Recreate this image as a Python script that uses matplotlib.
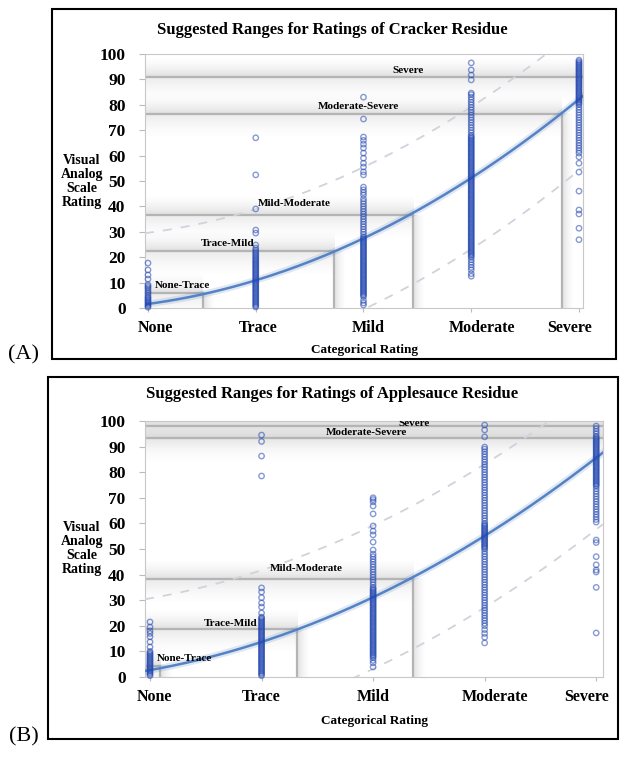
import numpy as np
import matplotlib
matplotlib.use("Agg")
import matplotlib.pyplot as plt
from matplotlib.patches import Rectangle

plt.rcParams.update({"font.family": ["Liberation Serif", "DejaVu Serif"],
                     "font.weight": "bold"})

CATEGORIES = ["None", "Trace", "Mild", "Moderate", "Severe"]
YTICKS = [0, 10, 20, 30, 40, 50, 60, 70, 80, 90, 100]
RANGE_NAMES = ["None-Trace", "Trace-Mild", "Mild-Moderate", "Moderate-Severe", "Severe"]

# ---- panel A: cracker residue ----
A_TITLE = "Suggested Ranges for Ratings of Cracker Residue"
A_NONE = [0.3, 0.8, 1.3, 1.8, 2.3, 2.8, 3.3, 3.8, 4.3, 5.0, 5.8, 6.5, 7.3, 8.0, 8.6, 9.2,
          11.4, 13.0, 15.0, 17.7]
A_TRACE = [0.4, 0.9, 1.4, 1.9, 2.4, 2.9, 3.4, 3.9, 4.4, 4.9, 5.4, 5.9, 6.4, 6.9, 7.4, 7.9,
           8.4, 8.9, 9.4, 9.9, 10.4, 10.9, 11.4, 11.9, 12.4, 12.9, 13.4, 13.9, 14.4, 14.9,
           15.4, 15.9, 16.4, 16.9, 17.4, 17.9, 18.4, 18.9, 19.4, 19.9, 20.5, 21.0, 21.6,
           22.2, 22.8, 23.6, 24.8, 29.5, 30.7, 39.0, 52.4, 67.0]
A_MILD = [1.2, 2.0, 3.0, 4.5, 5.0, 5.5, 6.0, 6.5, 7.0, 7.5, 8.0, 8.5, 9.0, 9.5, 10.0, 10.5,
          11.0, 11.5, 12.0, 12.5, 13.0, 13.5, 14.0, 14.5, 15.0, 15.5, 16.0, 16.5, 17.0,
          17.5, 18.0, 18.5, 19.0, 19.5, 20.0, 20.5, 21.0, 21.5, 22.0, 22.5, 23.0, 23.5,
          24.0, 24.5, 25.0, 25.5, 26.0, 26.5, 27.0, 27.5, 28.0, 29.0, 30.0, 31.0, 32.0,
          33.0, 34.0, 35.0, 36.0, 37.0, 38.0, 39.0, 40.0, 41.0, 42.0, 43.0, 44.5, 45.5,
          46.5, 47.6, 52.4, 53.6, 55.5, 57.0, 59.0, 61.0, 63.0, 64.5, 66.0, 67.3, 74.4, 83.0]
A_MODERATE = [12.5, 13.5, 15.0, 16.0, 17.0, 18.0, 19.0, 20.0, 20.5, 21.0, 21.5, 22.0, 22.5,
              23.0, 23.5, 24.0, 24.5, 25.0, 25.5, 26.0, 26.5, 27.0, 27.5, 28.0, 28.5, 29.0,
              29.5, 30.0, 30.5, 31.0, 31.5, 32.0, 32.5, 33.0, 33.5, 34.0, 34.5, 35.0, 35.5,
              36.0, 36.5, 37.0, 37.5, 38.0, 38.5, 39.0, 39.5, 40.0, 40.5, 41.0, 41.5, 42.0,
              42.5, 43.0, 43.5, 44.0, 44.5, 45.0, 45.5, 46.0, 46.5, 47.0, 47.5, 48.0, 48.5,
              49.0, 49.5, 50.0, 50.5, 51.0, 51.5, 52.0, 52.5, 53.0, 53.5, 54.0, 54.5, 55.0,
              55.5, 56.0, 56.5, 57.0, 57.5, 58.0, 58.5, 59.0, 59.5, 60.0, 60.5, 61.0, 61.5,
              62.0, 62.5, 63.0, 63.5, 64.0, 64.5, 65.0, 65.5, 66.0, 66.5, 67.0, 67.5, 68.0,
              69.0, 70.0, 71.0, 72.0, 73.0, 74.0, 75.0, 76.0, 77.0, 78.0, 79.0, 80.0, 81.0,
              82.0, 83.0, 84.0, 84.6, 89.8, 91.7, 93.7, 96.5]
A_SEVERE = [26.9, 31.4, 37.0, 38.6, 46.0, 53.5, 57.0, 59.5, 61.0, 62.0, 63.0, 64.0, 65.0,
            66.0, 67.0, 68.0, 69.0, 70.0, 71.0, 72.0, 73.0, 74.0, 75.0, 76.0, 77.0, 78.0,
            79.0, 80.0, 80.5, 81.0, 81.5, 82.0, 82.5, 83.0, 83.5, 84.0, 84.5, 85.0, 85.5,
            86.0, 86.5, 87.0, 87.5, 88.0, 88.5, 89.0, 89.5, 90.0, 90.5, 91.0, 91.5, 92.0,
            92.5, 93.0, 93.5, 94.0, 94.5, 95.0, 95.5, 96.0, 96.5, 97.0, 97.6]
A_FIT = [1.8, 10.5, 27.5, 51.5, 82.0]        # fitted curve read at each category
A_UPPER = [29.8, 38.5, 55.5, 79.5, 110.0]    # upper dashed band
A_LOWER = [-26.2, -17.5, -0.5, 23.5, 54.0]   # lower dashed band
A_CUT_VAS = [6.0, 22.4, 36.6, 76.4, 91.0]    # suggested cut-off on the VAS
A_CUT_CAT = [1.51, 2.73, 3.46, 4.84, None]   # where the cut meets the curve

# ---- panel B: applesauce residue ----
B_TITLE = "Suggested Ranges for Ratings of Applesauce Residue"
B_NONE = [0.5, 1.0, 1.5, 2.0, 2.5, 3.0, 3.5, 4.0, 4.5, 5.0, 5.5, 6.0, 6.5, 7.0, 7.5, 8.0,
          8.5, 9.0, 9.5, 10.0, 11.7, 13.7, 15.7, 17.0, 18.0, 19.5, 21.5]
B_TRACE = [0.5, 1.0, 1.5, 2.0, 2.5, 3.0, 3.5, 4.0, 4.5, 5.0, 5.5, 6.0, 6.5, 7.0, 7.5, 8.0,
           8.5, 9.0, 9.5, 10.0, 10.5, 11.0, 11.5, 12.0, 12.5, 13.0, 13.5, 14.0, 14.5, 15.0,
           15.5, 16.0, 16.5, 17.0, 17.5, 18.0, 18.5, 19.0, 19.5, 20.0, 20.5, 21.0, 21.5,
           22.0, 22.5, 23.0, 23.4, 25.0, 27.3, 28.9, 31.0, 33.2, 34.8, 78.5, 86.3, 92.0, 94.5]
B_MILD = [3.9, 5.5, 6.5, 7.5, 8.0, 8.5, 9.0, 9.5, 10.0, 10.5, 11.0, 11.5, 12.0, 12.5, 13.0,
          13.5, 14.0, 14.5, 15.0, 15.5, 16.0, 16.5, 17.0, 17.5, 18.0, 18.5, 19.0, 19.5,
          20.0, 20.5, 21.0, 21.5, 22.0, 22.5, 23.0, 23.5, 24.0, 24.5, 25.0, 25.5, 26.0,
          26.5, 27.0, 27.5, 28.0, 28.5, 29.0, 29.5, 30.0, 30.5, 31.0, 31.5, 32.0, 32.5,
          33.0, 33.5, 34.0, 34.5, 35.0, 36.0, 37.0, 38.0, 39.0, 40.0, 41.0, 42.0, 43.0,
          44.0, 45.0, 46.0, 47.0, 48.0, 49.6, 52.7, 55.5, 57.0, 59.0, 63.7, 66.8, 68.4,
          69.3, 70.0]
B_MODERATE = [13.3, 15.5, 17.0, 18.5, 20.0, 21.0, 22.0, 23.0, 24.0, 25.0, 26.0, 27.0, 28.0,
              29.0, 30.0, 31.0, 32.0, 33.0, 34.0, 35.0, 36.0, 37.0, 38.0, 39.0, 40.0, 41.0,
              42.0, 43.0, 44.0, 45.0, 46.0, 47.0, 48.0, 49.0, 50.0, 50.5, 51.0, 51.5, 52.0,
              52.5, 53.0, 53.5, 54.0, 54.5, 55.0, 55.5, 56.0, 56.5, 57.0, 57.5, 58.0, 58.5,
              59.0, 59.5, 60.0, 61.0, 62.0, 63.0, 64.0, 65.0, 66.0, 67.0, 68.0, 69.0, 70.0,
              71.0, 72.0, 73.0, 74.0, 75.0, 76.0, 77.0, 78.0, 79.0, 80.0, 81.0, 82.0, 83.0,
              84.0, 85.0, 86.0, 87.0, 88.0, 89.0, 89.8, 93.8, 96.5, 98.4]
B_SEVERE = [17.2, 35.0, 41.0, 41.8, 43.8, 47.0, 52.5, 53.5, 60.5, 61.5, 62.5, 63.5, 64.5,
            65.5, 66.5, 67.5, 68.5, 69.5, 70.5, 71.5, 72.5, 73.5, 74.5, 75.0, 75.5, 76.0,
            76.5, 77.0, 77.5, 78.0, 78.5, 79.0, 79.5, 80.0, 80.5, 81.0, 81.5, 82.0, 82.5,
            83.0, 83.5, 84.0, 84.5, 85.0, 85.5, 86.0, 86.5, 87.0, 87.5, 88.0, 88.5, 89.0,
            89.5, 90.0, 90.5, 91.0, 91.5, 92.0, 92.5, 93.0, 93.5, 94.0, 95.0, 96.0, 97.0, 98.0]
B_FIT = [2.7, 13.8, 30.8, 55.5, 85.5]
B_UPPER = [30.7, 41.8, 58.8, 83.5, 113.5]
B_LOWER = [-25.3, -14.2, 2.8, 27.5, 57.5]
B_CUT_VAS = [4.3, 18.6, 38.3, 93.2, 98.2]
B_CUT_CAT = [1.09, 2.32, 3.36, None, None]

PT = "#2348b0"
CURVE = "#5482c4"
DASH = "#d0d3dc"
LINE = "#b4b4b4"


def glow(ax, x0, x1, y0, y1, side, a=0.2):
    """gray gradient strip; opaque on the side touching the range line"""
    ramp = np.linspace(1, 0, 64) ** 1.6 * a
    if side == "up":
        alpha = ramp[:, None]
    elif side == "down":
        alpha = ramp[::-1][:, None]
    else:
        alpha = ramp[None, :]
    img = np.zeros(alpha.shape + (4,))
    img[..., :3] = 0.45
    img[..., 3] = alpha
    ax.imshow(img, extent=(x0, x1, y0, y1), origin="lower", aspect="auto",
              interpolation="bilinear", zorder=0.5)


def panel(ax, cols, fit, upper, lower, cut_vas, cut_cat, label_xy, xlab_x, xlim):
    x = np.arange(1, 6)
    xs = np.linspace(xlim[0], xlim[1], 200)

    # suggested ranges with their soft shadows
    for name, v, c, (lx, ly) in zip(RANGE_NAMES, cut_vas, cut_cat, label_xy):
        xr = xlim[1] if c is None else c
        glow(ax, xlim[0], xr, v, v + 8, "up", 0.22)
        glow(ax, xlim[0], xr, v - 10, v, "down", 0.15)
        ax.plot([xlim[0], xr], [v, v], color=LINE, lw=1.6, zorder=2, solid_capstyle="butt")
        if c is not None:
            glow(ax, xr, xr + 0.12, 0, v, "right", 0.22)
            ax.plot([xr, xr], [0, v], color=LINE, lw=1.6, zorder=2)
        ax.text(lx, ly, name, fontsize=8, ha="center", va="center", zorder=6, clip_on=True)

    # quadratic trend and prediction band
    for vals, style in ((upper, "dash"), (lower, "dash"), (fit, "fit")):
        ys = np.polyval(np.polyfit(x, vals, 2), xs)
        if style == "dash":
            ax.plot(xs, ys, color=DASH, lw=1.3, dashes=(5, 5), zorder=3)
        else:
            ax.plot(xs, ys, color=CURVE, lw=5, alpha=0.18, zorder=3)
            ax.plot(xs, ys, color=CURVE, lw=1.8, zorder=3)

    for i, vals in enumerate(cols):
        ax.scatter(np.full(len(vals), i + 1), vals, s=15, facecolors="none",
                   edgecolors=PT, linewidths=1.0, alpha=0.55, zorder=4, clip_on=False)

    ax.set_xlim(*xlim)
    ax.set_ylim(0, 100)
    ax.set_yticks(YTICKS)
    ax.set_yticklabels([str(t) for t in YTICKS], fontsize=12.5, fontweight="bold")
    ax.set_xticks(x)
    ax.set_xticklabels([])
    ax.tick_params(axis="y", length=4, color="#bbbbbb", pad=10)
    ax.tick_params(axis="x", length=3, color="#bbbbbb")
    for sp in ax.spines.values():
        sp.set_color("#c8c8c8")
        sp.set_linewidth(0.8)
    for lab, lx in zip(CATEGORIES, xlab_x):
        ax.annotate(lab, xy=(lx, 0), xycoords=("data", "axes fraction"), xytext=(0, -20),
                    textcoords="offset pixels", ha="center", va="center",
                    fontsize=11.5, fontweight="bold", annotation_clip=False)


fig = plt.figure(figsize=(6.29, 7.57), dpi=100)

axa = fig.add_axes([0.2305, 0.5931, 0.6963, 0.3356])
panel(axa, [A_NONE, A_TRACE, A_MILD, A_MODERATE, A_SEVERE], A_FIT, A_UPPER, A_LOWER,
      A_CUT_VAS, A_CUT_CAT,
      [(1.32, 9.0), (1.74, 25.5), (2.36, 41.0), (2.95, 79.5), (3.41, 93.3)],
      [1.07, 2.02, 3.04, 4.10, 4.91], (0.972, 5.037))

axb = fig.add_axes([0.2305, 0.1057, 0.7280, 0.3382])
panel(axb, [B_NONE, B_TRACE, B_MILD, B_MODERATE, B_SEVERE], B_FIT, B_UPPER, B_LOWER,
      B_CUT_VAS, B_CUT_CAT,
      [(1.31, 7.4), (1.72, 21.0), (2.40, 42.5), (2.94, 95.4), (3.37, 99.2)],
      [1.04, 2.00, 3.00, 4.09, 4.91], (0.955, 5.06))

# titles, axis captions, panel frames
fig.text(0.529, 0.960, A_TITLE, ha="center", va="center", fontsize=12, fontweight="bold")
fig.text(0.528, 0.4795, B_TITLE, ha="center", va="center", fontsize=12, fontweight="bold")
for yc, ylab_y, xlab_x in ((0.5377, 0.7596, 0.579), (0.0476, 0.2748, 0.596)):
    fig.text(xlab_x, yc, "Categorical Rating", ha="center", va="center", fontsize=9.5,
             fontweight="bold")
    fig.text(0.130, ylab_y, "Visual\nAnalog\nScale\nRating", ha="center", va="center",
             fontsize=10, fontweight="bold", linespacing=1.1)
fig.text(0.038, 0.531, "(A)", ha="center", va="center", fontsize=16, fontweight="normal")
fig.text(0.038, 0.026, "(B)", ha="center", va="center", fontsize=16, fontweight="normal")
fig.patches.append(Rectangle((0.0827, 0.5258), 0.8967, 0.4624, transform=fig.transFigure,
                             fill=False, ec="black", lw=1.5))
fig.patches.append(Rectangle((0.0763, 0.0238), 0.9062, 0.4782, transform=fig.transFigure,
                             fill=False, ec="black", lw=1.5))

fig.savefig("out.png", dpi=100)
